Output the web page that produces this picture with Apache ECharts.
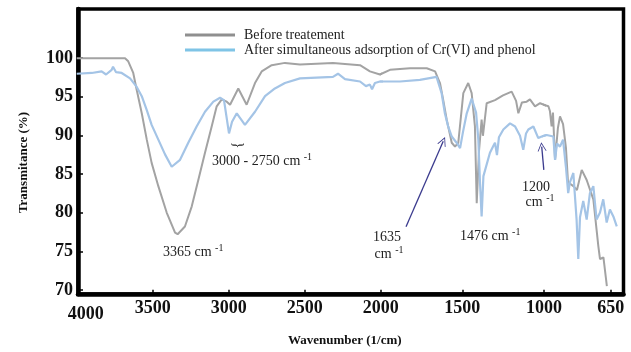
<!DOCTYPE html>
<html><head><meta charset="utf-8">
<script src="https://cdn.jsdelivr.net/npm/echarts@6/dist/echarts.min.js"></script>
<style>html,body{margin:0;padding:0;background:#fff}#c{width:631px;height:352px}</style>
</head><body><div id="c"></div>
<script>
// ---------- DATA ----------
const seriesNames = ['Before treatement', 'After simultaneous adsorption of Cr(VI) and phenol'];

const wavenumbersBefore = [4000,3682,3661,3628,3605,3572,3539,3507,3463,3408,3353,3336,3288,3243,3200,3156,3112,3079,3046,3013,2991,2937,2882,2827,2783,2717,2630,2531,2314,2136,2071,2005,1943,1821,1718,1667,1637,1617,1596,1565,1545,1525,1494,1464,1443,1423,1412,1398,1382,1374,1351,1300,1251,1198,1171,1157,1135,1106,1086,1055,1024,977,969,960,953,942,927,916,900,885,874,846,827,802,776,741,715,706,688,670];
const transmittanceBefore = [100,100,99.6,98.1,95.9,92.9,89.5,86.5,83.5,80.1,77.5,77.3,78.3,80.9,84.3,87.8,91.2,93.8,94.7,94.4,94.0,96.1,94.0,96.8,98.3,99.1,99.4,99.2,99.4,99.1,98.3,97.9,98.5,98.7,98.7,98.3,96.8,94.6,92.1,89.1,88.6,89.1,95.5,96.8,95.5,91.2,81.3,88,92.1,90,94.2,94.6,95.2,95.7,94.5,92.9,94.3,94.4,94.7,93.8,94.2,93.8,93.2,91.2,93,86.9,91,92.5,91.5,88.5,84,83.5,83,85.6,84.3,81.8,75.8,74.1,74.3,70.6];

const wavenumbersAfter = [4000,3901,3836,3807,3770,3761,3741,3704,3649,3605,3572,3539,3507,3463,3419,3375,3364,3320,3266,3211,3156,3101,3057,3031,2998,2978,2947,2893,2827,2761,2696,2630,2531,2314,2281,2235,2136,2097,2071,2057,2038,2005,1882,1760,1658,1627,1607,1587,1565,1535,1514,1496,1473,1443,1433,1416,1402,1392,1382,1371,1361,1331,1312,1300,1288,1276,1249,1208,1177,1147,1127,1110,1096,1065,1035,1014,986,951,942,932,916,900,885,873,864,846,829,820,811,794,776,759,741,724,706,689,671,654,636,618];
const transmittanceAfter = [98.0,98.1,98.3,97.9,98.5,98.9,98.2,98.1,97.4,96.3,95.1,93.3,91.4,89.5,87.6,86.0,85.8,86.9,89.1,91.2,93.1,94.4,94.9,94.6,90.3,91.8,92.9,91.4,93.1,95.1,96.1,96.8,97.4,97.6,98.0,97.3,97.0,96.4,96.6,96.0,96.8,97.0,97.0,97.2,97.6,95.5,92.9,91.2,89.9,89.1,88.4,90.5,92.9,94.8,94.9,93,89.5,84,79.6,84.8,85.0,87.8,88.6,89.1,87.5,89.8,90.8,91.6,91.2,90.0,88.2,90.3,90.8,91.2,89.7,89.9,90.1,89.9,86.9,89,88.6,89.5,86,82.6,84,85.2,79.2,74.1,79.5,81.6,79.2,82.6,83.5,79.2,80.1,81.8,78.8,80.5,79.6,78.3];

const xTickLabelsA = [4000, 3500, 3000, 2500];
const xTickLabelsB = [2000, 1500];
const xTickLabelsC = [1000, 650];
const yTickLabels = [70, 75, 80, 85, 90, 95, 100];

// annotation arrows (data coordinates: [wavenumber, transmittance])
const arrow1635 = [[1845, 78.25], [1617, 89.3]];
const arrow1200 = [[1001, 85.6], [1014, 88.6]];

// ---------- CHART ----------
const chart = echarts.init(document.getElementById('c'), null, {renderer: 'canvas'});
const SERIF = '"Liberation Serif","Times New Roman",serif';
const Y_MIN = 69.5, Y_MAX = 106.35;
const GRAY = '#a3a3a3', BLUE = '#a4c4e6', ARROW = '#3b3b8e';

function sliceRange(ws, vs, lo, hi) {
  const out = [];
  for (let i = 0; i < ws.length; i++) {
    const a = i > 0 && Math.max(ws[i-1], ws[i]) >= lo && Math.min(ws[i-1], ws[i]) <= hi;
    const b = i < ws.length - 1 && Math.max(ws[i], ws[i+1]) >= lo && Math.min(ws[i], ws[i+1]) <= hi;
    if (a || b) out.push([ws[i], vs[i]]);
  }
  return out;
}

const panels = [
  {left: 76.7, width: 304, max: 4000, min: 2000, labels: xTickLabelsA, ticks: xTickLabelsA.slice(1)},
  {left: 380.7, width: 163.3, max: 2000, min: 1000, labels: xTickLabelsB, ticks: xTickLabelsB},
  {left: 544, width: 79.5, max: 1000, min: 582.7, labels: xTickLabelsC, ticks: xTickLabelsC}
];

const grids = [], xAxes = [], yAxes = [], series = [];
const labelStyle = {fontFamily: SERIF, fontWeight: 'bold', fontSize: 18, color: '#111'};

panels.forEach((p, i) => {
  grids.push({left: p.left, width: p.width, top: 9, bottom: 57.3, show: false});
  xAxes.push({
    type: 'value', gridIndex: i, min: p.min, max: p.max, inverse: true,
    axisLine: {show: false}, splitLine: {show: false},
    axisTick: {show: true, inside: true, length: 5, customValues: p.ticks, lineStyle: {color: '#000', width: 1.5}},
    axisLabel: Object.assign({
      show: true, margin: 5, customValues: p.labels,
      formatter: v => v === 4000 ? '{o|4000}' : String(v),
      rich: {o: Object.assign({padding: [6, 0, 0, 18]}, labelStyle)}
    }, labelStyle)
  });
  yAxes.push({type: 'value', gridIndex: i, min: Y_MIN, max: Y_MAX, show: false});
  const gray = sliceRange(wavenumbersBefore, transmittanceBefore, p.min, p.max);
  const blue = sliceRange(wavenumbersAfter, transmittanceAfter, p.min, p.max);
  series.push({
    name: seriesNames[0], type: 'line', xAxisIndex: i, yAxisIndex: i, data: gray,
    symbol: 'none', clip: true, lineStyle: {color: GRAY, width: 2}, itemStyle: {color: GRAY}, z: 3
  });
  const blueSeries = {
    name: seriesNames[1], type: 'line', xAxisIndex: i, yAxisIndex: i, data: blue,
    symbol: 'none', clip: true, lineStyle: {color: BLUE, width: 2.2}, itemStyle: {color: BLUE}, z: 4
  };
  if (i === 1) {
    blueSeries.markLine = {
      silent: true, animation: false,
      symbol: ['none', 'path://M0,10 L5,0 L10,10 L9,10 L5,2 L1,10 Z'],
      symbolSize: [9, 9],
      label: {show: false},
      lineStyle: {color: ARROW, width: 1.3, type: 'solid'},
      itemStyle: {color: ARROW},
      data: [
        [{coord: arrow1635[0]}, {coord: arrow1635[1]}],
        [{coord: arrow1200[0]}, {coord: arrow1200[1]}]
      ]
    };
  }
  series.push(blueSeries);
});

// frame grid with the visible axes
grids.push({left: 78, right: 7.5, top: 9, bottom: 57.3, show: true, borderColor: '#000', borderWidth: 3.5, backgroundColor: 'transparent'});
xAxes.push({
  type: 'value', gridIndex: 3, min: 0, max: 1,
  axisLine: {show: true, lineStyle: {color: '#000', width: 4.5}},
  axisTick: {show: false}, axisLabel: {show: false}, splitLine: {show: false},
  name: 'Wavenumber (1/cm)', nameLocation: 'middle', nameGap: 40,
  nameTextStyle: {fontFamily: SERIF, fontWeight: 'bold', fontSize: 13, color: '#111', padding: [0, 12, 0, 0]}
});
yAxes.push({
  type: 'value', gridIndex: 3, min: Y_MIN, max: Y_MAX,
  axisLine: {show: true, lineStyle: {color: '#000', width: 4.5}},
  axisTick: {show: true, inside: true, length: 5, customValues: yTickLabels, lineStyle: {color: '#000', width: 1.5}},
  axisLabel: Object.assign({show: true, margin: 5, customValues: yTickLabels}, labelStyle),
  splitLine: {show: false},
  name: 'Transmitance (%)', nameLocation: 'middle', nameGap: 48, nameRotate: 90,
  nameTextStyle: {fontFamily: SERIF, fontWeight: 'bold', fontSize: 13, color: '#111', padding: [0, 22, 0, 0]}
});

const rich = {
  a: {fontFamily: SERIF, fontSize: 14, fill: '#222', color: '#222', lineHeight: 18},
  s: {fontFamily: SERIF, fontSize: 10, fill: '#222', color: '#222', lineHeight: 18, verticalAlign: 'top', padding: [0, 0, 6, 0]}
};
function note(x, y, text, align) {
  return {type: 'text', x: x, y: y, z: 10, silent: true,
    style: {text: text, rich: rich, align: align || 'left', verticalAlign: 'middle', fill: '#222'}};
}

const option = {
  animation: false,
  backgroundColor: '#fff',
  grid: grids, xAxis: xAxes, yAxis: yAxes, series: series,
  legend: {
    show: true, selectedMode: false, orient: 'vertical', left: 180, top: 23,
    icon: 'rect', itemWidth: 50, itemHeight: 3, itemGap: 1,
    textStyle: {fontFamily: SERIF, fontSize: 14, color: '#222', lineHeight: 14, padding: [0, 0, 0, 4]},
    data: [
      {name: seriesNames[0], itemStyle: {color: '#8f8f8f'}},
      {name: seriesNames[1], itemStyle: {color: '#7fc4e6'}}
    ]
  },
  graphic: [
    note(212, 161, '{a|3000 - 2750 cm }{s|-1}'),
    {type: 'text', x: 238, y: 145, rotation: -Math.PI / 2, z: 10, silent: true,
      style: {text: '}', font: '14px ' + SERIF, fill: '#222', align: 'center', verticalAlign: 'middle'}},
    note(163, 252, '{a|3365 cm }{s|-1}'),
    note(387, 237, '{a|1635}', 'center'),
    note(389, 254, '{a|cm }{s|-1}', 'center'),
    note(460, 236, '{a|1476 cm }{s|-1}'),
    note(536, 187, '{a|1200}', 'center'),
    note(540, 202, '{a|cm }{s|-1}', 'center')
  ]
};
chart.setOption(option);
</script></body></html>
